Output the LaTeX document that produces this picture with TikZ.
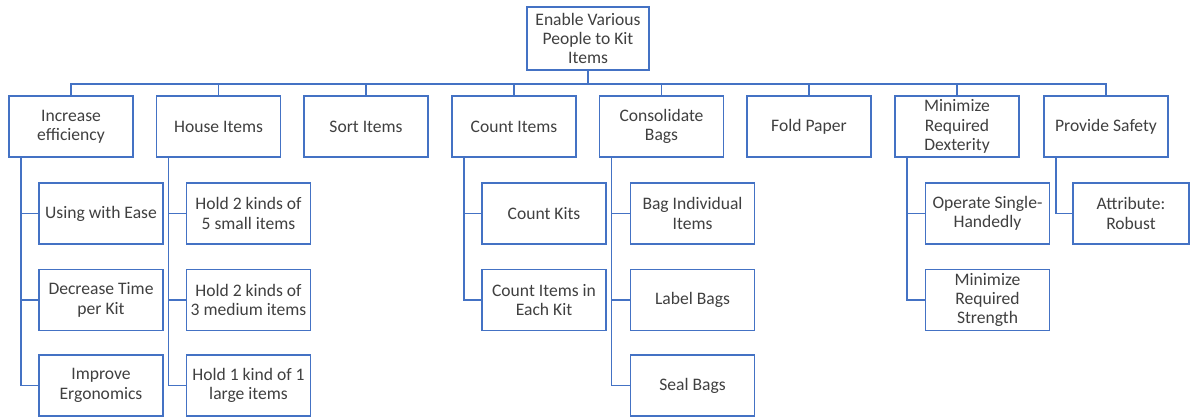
\documentclass[tikz,border=0pt]{standalone}
\usepackage{fontspec}
\setmainfont{Carlito}
\usetikzlibrary{positioning}
\definecolor{boxline}{HTML}{4472C4}
\definecolor{boxtext}{HTML}{404040}

\begin{document}
\begin{tikzpicture}[
    x=0.02cm, y=-0.02cm,
    line width=1pt,
    font=\fontsize{10}{11}\selectfont,
    fn/.style={draw=boxline, fill=white, text=boxtext, line width=1.1pt, inner xsep=1pt, inner ysep=2pt, minimum width=2.48cm, minimum height=1.22cm, align=center},
    link/.style={draw=boxline, line width=1pt}
]
    \useasboundingbox (0,0) rectangle (1190,416);

    % Top function
    \node[fn, minimum width=2.44cm, minimum height=1.26cm] (root) at (588, 38.5) {Enable Various\\People to Kit\\Items};

    % --- First level ---
    \node[fn] (eff)    at (71, 126.5)   {Increase\\efficiency};
    \node[fn] (house)  at (218.5, 126.5) {House Items};
    \node[fn] (sort)   at (366, 126.5)  {Sort Items};
    \node[fn] (count)  at (514, 126.5)  {Count Items};
    \node[fn] (consol) at (661.5, 126.5) {Consolidate\\Bags};
    \node[fn] (fold)   at (809, 126.5)  {Fold Paper};
    \node[fn] (dext)   at (957, 126.5)  {Minimize\\Required\\Dexterity};
    \node[fn] (safety) at (1106, 126.5) {Provide Safety};

    % --- Second level ---
    \node[fn] (eff_ease)  at (101, 213.5)   {Using with Ease};
    \node[fn] (eff_time)  at (101, 300)     {Decrease Time\\per Kit};
    \node[fn] (eff_ergo)  at (101, 385.5)   {Improve\\Ergonomics};

    \node[fn] (house_sm)  at (248.5, 213.5) {Hold 2 kinds of\\5 small items};
    \node[fn] (house_md)  at (248.5, 300)   {Hold 2 kinds of\\3 medium items};
    \node[fn] (house_lg)  at (248.5, 385.5) {Hold 1 kind of 1\\large items};

    \node[fn] (count_kit) at (544, 213.5)   {Count Kits};
    \node[fn] (count_each) at (544, 300)    {Count Items in\\Each Kit};

    \node[fn] (consol_bag)   at (692.5, 213.5) {Bag Individual\\Items};
    \node[fn] (consol_label) at (692.5, 300)   {Label Bags};
    \node[fn] (consol_seal)  at (692.5, 385.5) {Seal Bags};

    \node[fn] (dext_hand) at (987.5, 213.5) {Operate Single-\\Handedly};
    \node[fn] (dext_str)  at (987.5, 300)   {Minimize\\Required\\Strength};

    \node[fn, minimum width=2.32cm] (safety_rob) at (1131, 213.5) {Attribute:\\Robust};

    % Bus from the top function
    \foreach \n in {eff, house, sort, count, consol, fold, dext, safety}
        \draw[link] (root.south) -- ++(0,13) -| (\n.north);

    % Branches down the left side of each parent
    \foreach \p/\c in {eff/eff_ease, eff/eff_time, eff/eff_ergo,
                       house/house_sm, house/house_md, house/house_lg,
                       count/count_kit, count/count_each,
                       consol/consol_bag, consol/consol_label, consol/consol_seal,
                       dext/dext_hand, dext/dext_str,
                       safety/safety_rob}
        \draw[link] ([xshift=0.26cm]\p.south west) |- (\c.west);

\end{tikzpicture}
\end{document}
